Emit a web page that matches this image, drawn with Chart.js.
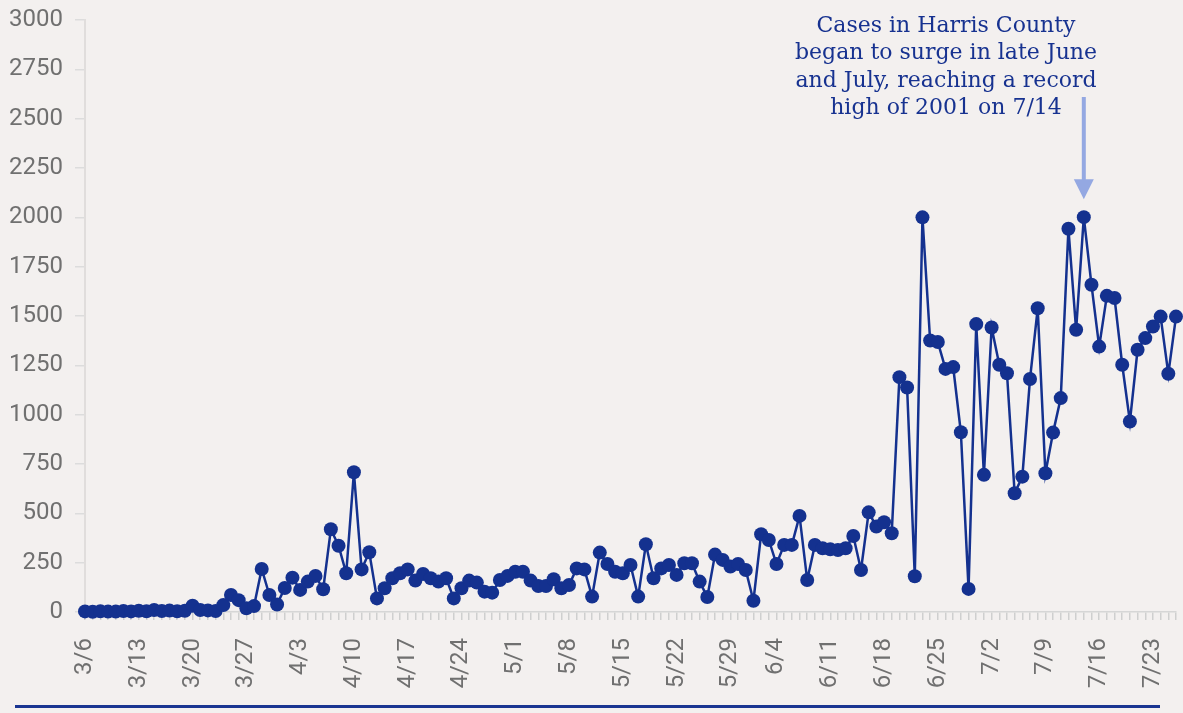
<!DOCTYPE html>
<html lang="en">
<head>
    <meta charset="UTF-8">
    <title>Harris County daily cases</title>
    <style>
        body { margin: 0; background: #f3f0ef; }
        .wrap { position: relative; width: 1183px; height: 713px; }
        .bottom-rule { position: absolute; left: 15px; top: 705px; width: 1145px; height: 3px; background: #1a3591; }
    </style>
</head>
<body>
    <div class="wrap">
        <canvas id="casesChart"></canvas>
        <div class="bottom-rule"></div>
    </div>

    <script src="https://cdn.jsdelivr.net/npm/chart.js"></script>
    <script>
        // daily dates, 3/6 .. 7/26
        const dates = [
            '3/6','3/7','3/8','3/9','3/10','3/11','3/12','3/13','3/14','3/15','3/16','3/17','3/18','3/19','3/20','3/21','3/22','3/23','3/24','3/25','3/26','3/27','3/28','3/29','3/30','3/31',
            '4/1','4/2','4/3','4/4','4/5','4/6','4/7','4/8','4/9','4/10','4/11','4/12','4/13','4/14','4/15','4/16','4/17','4/18','4/19','4/20','4/21','4/22','4/23','4/24','4/25','4/26','4/27','4/28','4/29','4/30',
            '5/1','5/2','5/3','5/4','5/5','5/6','5/7','5/8','5/9','5/10','5/11','5/12','5/13','5/14','5/15','5/16','5/17','5/18','5/19','5/20','5/21','5/22','5/23','5/24','5/25','5/26','5/27','5/28','5/29','5/30','5/31',
            '6/1','6/2','6/3','6/4','6/5','6/6','6/7','6/8','6/9','6/10','6/11','6/12','6/13','6/14','6/15','6/16','6/17','6/18','6/19','6/20','6/21','6/22','6/23','6/24','6/25','6/26','6/27','6/28','6/29','6/30',
            '7/1','7/2','7/3','7/4','7/5','7/6','7/7','7/8','7/9','7/10','7/11','7/12','7/13','7/14','7/15','7/16','7/17','7/18','7/19','7/20','7/21','7/22','7/23','7/24','7/25','7/26'
        ];

        // new cases per day
        const cases = [
            3, 1, 4, 2, 2, 5, 3, 6, 4, 10, 5, 7, 4, 6,
            32, 10, 8, 5, 35, 86, 60, 19, 30, 218, 86, 38, 122, 174,
            112, 154, 183, 115, 419, 336, 196, 708, 216, 303, 69, 120, 171, 196,
            216, 159, 193, 171, 154, 171, 69, 120, 159, 149, 103, 98, 162, 183,
            204, 204, 159, 132, 132, 166, 120, 137, 221, 216, 78, 301, 243, 204,
            196, 238, 78, 343, 171, 221, 238, 188, 247, 247, 154, 76, 291, 264,
            230, 243, 213, 57, 394, 365, 243, 340, 340, 487, 162, 340, 323, 318,
            314, 323, 385, 213, 505, 433, 455, 399, 1190, 1138, 181, 2000, 1376, 1368,
            1232, 1241, 911, 117, 1459, 695, 1442, 1253, 1210, 602, 686, 1181, 1539, 703,
            909, 1084, 1942, 1430, 2001, 1658, 1345, 1602, 1591, 1253, 965, 1329, 1388, 1447,
            1497, 1207, 1497
        ];

        // dates that get a label on the x axis
        const tickDates = ['3/6','3/13','3/20','3/27','4/3','4/10','4/17','4/24','5/1','5/8','5/15',
            '5/22','5/29','6/4','6/11','6/18','6/25','7/2','7/9','7/16','7/23'];

        const yTicks = [0, 250, 500, 750, 1000, 1250, 1500, 1750, 2000, 2250, 2500, 2750, 3000];

        const noteLines = [
            'Cases in Harris County',
            'began to surge in late June',
            'and July, reaching a record',
            'high of 2001 on 7/14'
        ];
        const noteDate = '7/14';

        const navy = '#14318f';

        // annotation text + arrow pointing at the record day
        const notePlugin = {
            id: 'note',
            afterDatasetsDraw(chart) {
                const ctx = chart.ctx;
                const x = chart.scales.x.getPixelForValue(dates.indexOf(noteDate));
                const yPeak = chart.scales.y.getPixelForValue(cases[dates.indexOf(noteDate)]);
                ctx.save();
                ctx.fillStyle = '#173290';
                ctx.font = '22px "DejaVu Serif"';
                ctx.textAlign = 'center';
                ctx.textBaseline = 'middle';
                noteLines.forEach((line, i) => ctx.fillText(line, 946, 26 + i * 27.5));

                const tip = yPeak - 18;
                ctx.strokeStyle = '#94a8e2';
                ctx.fillStyle = '#94a8e2';
                ctx.lineWidth = 4;
                ctx.beginPath();
                ctx.moveTo(x, 97);
                ctx.lineTo(x, tip - 16);
                ctx.stroke();
                ctx.beginPath();
                ctx.moveTo(x - 10, tip - 20);
                ctx.lineTo(x + 10, tip - 20);
                ctx.lineTo(x, tip);
                ctx.closePath();
                ctx.fill();
                ctx.restore();
            }
        };

        document.addEventListener('DOMContentLoaded', () => {
            const ctx = document.getElementById('casesChart').getContext('2d');
            new Chart(ctx, {
                type: 'line',
                data: {
                    labels: dates,
                    datasets: [{
                        label: 'Cases',
                        data: cases,
                        borderColor: navy,
                        backgroundColor: navy,
                        borderWidth: 2.5,
                        pointRadius: 7,
                        pointBorderWidth: 0,
                        pointBackgroundColor: navy,
                        tension: 0,
                        clip: false
                    }]
                },
                options: {
                    responsive: true,
                    maintainAspectRatio: false,
                    animation: false,
                    layout: { padding: { top: 20, right: 6, bottom: 0, left: 0 } },
                    plugins: {
                        legend: { display: false },
                        tooltip: { enabled: false }
                    },
                    scales: {
                        x: {
                            grid: {
                                drawOnChartArea: false,
                                tickLength: 8,
                                tickColor: '#cfcfcf',
                                lineWidth: 1.5
                            },
                            border: { color: '#d6d6d6', width: 1.5 },
                            ticks: {
                                autoSkip: false,
                                minRotation: 90,
                                maxRotation: 90,
                                padding: 18,
                                color: '#707070',
                                font: { family: 'Roboto', size: 24 },
                                callback: function (value) {
                                    const d = dates[value];
                                    return tickDates.includes(d) ? d : '';
                                }
                            },
                            afterFit(scale) {
                                scale.height = 101;
                                scale.paddingLeft = 0;
                                scale.paddingRight = 0;
                            }
                        },
                        y: {
                            min: yTicks[0],
                            max: yTicks[yTicks.length - 1],
                            afterBuildTicks(scale) { scale.ticks = yTicks.map(v => ({ value: v })); },
                            grid: {
                                drawOnChartArea: false,
                                tickLength: 10,
                                tickColor: '#dcdcdc',
                                lineWidth: 1.5
                            },
                            border: { color: '#e0dddc', width: 2 },
                            ticks: {
                                padding: 12,
                                color: '#707070',
                                font: { family: 'Roboto', size: 24 },
                                callback: v => String(v)
                            },
                            afterFit(scale) {
                                scale.width = 85;
                                scale.paddingTop = 0;
                            }
                        }
                    }
                },
                plugins: [notePlugin]
            });
        });
    </script>
</body>
</html>
